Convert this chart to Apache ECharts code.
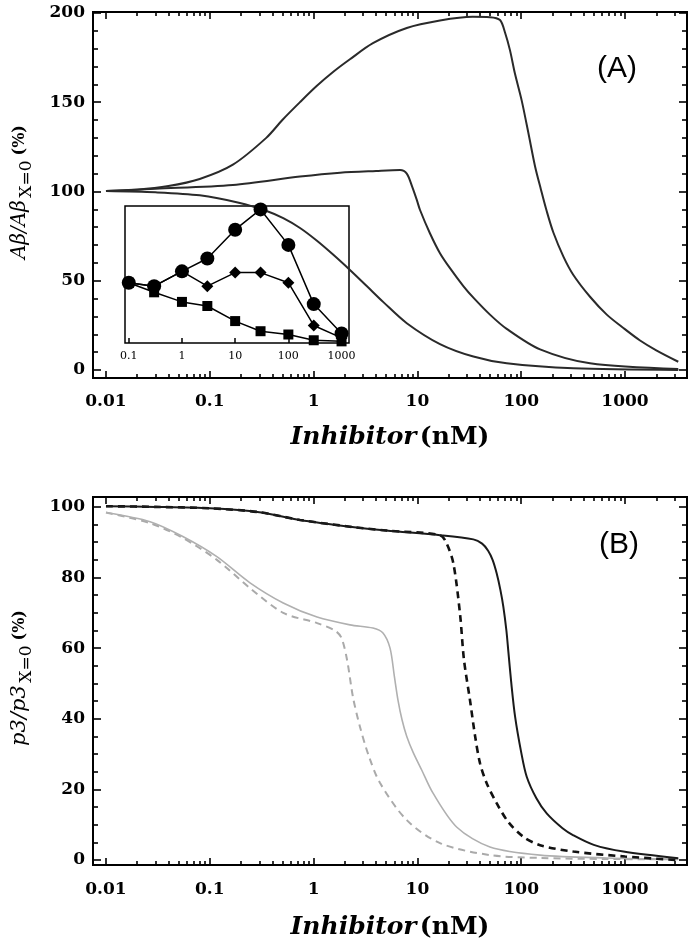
<!DOCTYPE html>
<html><head><meta charset="utf-8">
<script src="https://cdn.jsdelivr.net/npm/echarts@6/dist/echarts.min.js"></script>
<style>html,body{margin:0;padding:0;background:#fff}#c{width:693px;height:948px}</style>
</head><body><div id="c"></div>
<script>
// ---------------- data ----------------
// Panel A curves (Inhibitor nM vs Abeta / Abeta_X=0 %)
const a1X = [0.01, 0.02, 0.04, 0.08, 0.167, 0.35, 0.5, 0.74, 1.07, 1.55, 2.24, 3.73, 7.9, 16.5, 34, 50, 62.5, 69.8, 78, 87, 101, 117, 136, 155, 176, 204, 255, 318, 460, 667, 964, 1396, 2000, 3258];
const a1Y = [100.3, 101, 103, 107, 115, 130, 140, 150, 159, 167, 174, 183, 191.5, 195.7, 197.8, 197.6, 196, 189, 179, 166, 151, 133, 114, 101, 89, 77, 63.5, 53.2, 41, 31, 23.5, 16.5, 11, 4.6];
const a2X = [0.01, 0.03, 0.167, 0.74, 1.8, 4, 6.8, 7.9, 8.9, 9.9, 10.6, 13.2, 16.5, 20.6, 27.7, 34.6, 50, 72.5, 152, 460, 3258];
const a2Y = [100.3, 101.5, 103.6, 108.3, 110.5, 111.5, 112, 110, 102.7, 95, 89.6, 76.6, 65.4, 57, 47, 40.5, 31, 23, 11.5, 3.7, 0.5];
const a3X = [0.01, 0.03, 0.08, 0.195, 0.353, 0.51, 0.74, 1.07, 1.55, 2.24, 3.25, 4.7, 7.9, 16.5, 34.6, 72.5, 318, 3258];
const a3Y = [100.2, 99.5, 97.8, 93.5, 89, 85, 79.5, 72.5, 64.5, 56, 47, 38, 26.2, 14.5, 7.5, 3.7, 0.9, 0];

// Inset (experimental points)
const insetX = [0.1, 0.3, 1, 3, 10, 30, 100, 300, 1000];
const insetCircles = [44, 41.5, 52.3, 61.7, 82.7, 97.5, 71.6, 28.4, 6.9];
const insetDiamonds = [44, 41.5, 52.3, 41.5, 51.4, 51.4, 44, 12.8, 3.7];
const insetSquares = [44, 37, 30, 27, 16, 8.6, 6.2, 2, 1.2];
const insetLabels = [0.1, 1, 10, 100, 1000];

// Panel B curves (Inhibitor nM vs p3 / p3_X=0 %)
const bBlackX = [0.01, 0.03, 0.1, 0.3, 0.74, 2.24, 5, 16.5, 34.6, 42, 48, 53, 58, 63, 67.3, 72, 75.2, 80, 87.3, 100, 113, 140, 176, 250, 318, 500, 964, 3258];
const bBlackY = [100.2, 100, 99.6, 98.5, 96.3, 94.4, 93.3, 92, 90.8, 89.6, 87.6, 85, 81.2, 76.5, 71.7, 65, 59, 50.5, 40.6, 30.5, 23.6, 17.5, 13.2, 9, 7, 4.3, 2.4, 0.5];
const bBlackDashX = [0.01, 0.03, 0.1, 0.3, 0.74, 2.24, 5, 16.5, 19.1, 22.2, 25.7, 28.1, 32.1, 36, 40.1, 46.6, 58, 75, 104.7, 152, 318, 1000, 3258];
const bBlackDashY = [100.2, 100, 99.6, 98.5, 96.3, 94.4, 93.3, 92, 89.7, 84, 69.9, 56.7, 45.3, 35, 27.4, 21.7, 16.1, 10.8, 6.6, 4.2, 2.4, 1, 0];
const bGrayX = [0.01, 0.0266, 0.055, 0.117, 0.244, 0.51, 1.08, 2.24, 3.73, 4.66, 5.45, 6.0, 6.5, 7.1, 7.9, 9.1, 11, 14.1, 24, 50, 152, 670, 3258];
const bGrayY = [98.4, 95.8, 91.6, 85.9, 78.5, 72.8, 68.8, 66.6, 65.7, 64.3, 60, 52, 45.3, 39.8, 35, 30.5, 25.5, 19, 9.3, 3.7, 1.4, 0.6, 0.3];
const bGrayDashX = [0.01, 0.0266, 0.055, 0.117, 0.244, 0.51, 1.08, 1.6, 1.85, 2.1, 2.4, 2.8, 3.4, 4.37, 7.9, 16.5, 50, 152, 670, 3258];
const bGrayDashY = [98.4, 95.4, 91.2, 85, 77, 70, 67.1, 65, 63, 56.7, 46, 37.7, 29.5, 21.8, 11.3, 4.8, 1.4, 0.6, 0.3, 0.2];

// Tick labels / tick values
const xLabels = [0.01, 0.1, 1, 10, 100, 1000];
const xMinorTicks = [0.02, 0.03, 0.04, 0.05, 0.06, 0.07, 0.08, 0.09,
  0.2, 0.3, 0.4, 0.5, 0.6, 0.7, 0.8, 0.9,
  2, 3, 4, 5, 6, 7, 8, 9,
  20, 30, 40, 50, 60, 70, 80, 90,
  200, 300, 400, 500, 600, 700, 800, 900,
  2000, 3000];
const yALabels = [0, 50, 100, 150, 200];
const yAMinor = [10, 20, 30, 40, 60, 70, 80, 90, 110, 120, 130, 140, 160, 170, 180, 190];
const yBLabels = [0, 20, 40, 60, 80, 100];
const yBMinor = [5, 10, 15, 25, 30, 35, 45, 50, 55, 65, 70, 75, 85, 90, 95];

// ---------------- chart ----------------
const X_MIN = 0.0075, X_MAX = 3954;
const SERIF = 'DejaVu Serif';
const pairs = (xs, ys) => xs.map((x, i) => [x, ys[i]]);
const fmt = v => String(parseFloat(Number(v).toPrecision(4)));

function xAx(grid, position, ticks, len, labels, margin) {
  return {
    type: 'log', logBase: 10, gridIndex: grid, position: position, min: X_MIN, max: X_MAX,
    axisLine: {show: false, onZero: false}, splitLine: {show: false}, minorTick: {show: false},
    axisTick: {show: true, inside: true, length: len, customValues: ticks, lineStyle: {color: '#000', width: 1.6}},
    axisLabel: labels ? {show: true, customValues: labels, margin: margin, color: '#000', fontFamily: SERIF,
      fontWeight: 'bold', fontSize: 17, formatter: fmt} : {show: false}
  };
}
function yAx(grid, position, min, max, ticks, len, labels) {
  return {
    type: 'value', gridIndex: grid, position: position, min: min, max: max,
    axisLine: {show: false, onZero: false}, splitLine: {show: false},
    axisTick: {show: true, inside: true, length: len, customValues: ticks, lineStyle: {color: '#000', width: 1.6}},
    axisLabel: labels ? {show: true, customValues: labels, margin: 8, color: '#000', fontFamily: SERIF,
      fontWeight: 'bold', fontSize: 17} : {show: false}
  };
}

const A_MIN = -4.5, A_MAX = 200.5, B_MIN = -1.4, B_MAX = 102.8;

const lineA = (name, xs, ys) => ({
  name, type: 'line', xAxisIndex: 0, yAxisIndex: 0, data: pairs(xs, ys), showSymbol: false,
  smooth: 0.3, lineStyle: {color: '#2a2a2a', width: 2}, z: 3
});
const lineB = (name, xs, ys, color, width, type) => ({
  name, type: 'line', xAxisIndex: 4, yAxisIndex: 4, data: pairs(xs, ys), showSymbol: false,
  smooth: 0.3, lineStyle: {color: color, width: width, type: type}, z: 3
});
const insetSeries = (name, ys, symbol, size) => ({
  name, type: 'line', xAxisIndex: 8, yAxisIndex: 8, data: pairs(insetX, ys),
  symbol: symbol, symbolSize: size, showSymbol: true,
  itemStyle: {color: '#000'}, lineStyle: {color: '#000', width: 1.5}, z: 5
});

const option = {
  animation: false,
  backgroundColor: '#fff',
  grid: [
    {left: 93, top: 12, width: 594, height: 366, show: true, borderColor: '#000', borderWidth: 2, backgroundColor: 'transparent'},
    {left: 93, top: 497, width: 594, height: 368, show: true, borderColor: '#000', borderWidth: 2, backgroundColor: 'transparent'},
    {left: 125, top: 206, width: 224, height: 137, show: true, borderColor: '#000', borderWidth: 1.5, backgroundColor: 'transparent'}
  ],
  xAxis: [
    xAx(0, 'bottom', xLabels, 7, xLabels, 15),
    xAx(0, 'bottom', xMinorTicks, 4, null),
    xAx(0, 'top', xLabels, 7, null),
    xAx(0, 'top', xMinorTicks, 4, null),
    xAx(1, 'bottom', xLabels, 7, xLabels, 16),
    xAx(1, 'bottom', xMinorTicks, 4, null),
    xAx(1, 'top', xLabels, 7, null),
    xAx(1, 'top', xMinorTicks, 4, null),
    {
      type: 'log', logBase: 10, gridIndex: 2, position: 'bottom', min: 0.085, max: 1380,
      axisLine: {show: false, onZero: false}, splitLine: {show: false}, minorTick: {show: false},
      axisTick: {show: true, inside: true, length: 5, customValues: insetLabels, lineStyle: {color: '#000', width: 1.5}},
      axisLabel: {show: true, customValues: insetLabels, margin: 8, color: '#000', fontFamily: SERIF, fontSize: 11, formatter: fmt}
    }
  ],
  yAxis: [
    yAx(0, 'left', A_MIN, A_MAX, yALabels, 8, yALabels),
    yAx(0, 'left', A_MIN, A_MAX, yAMinor, 5, null),
    yAx(0, 'right', A_MIN, A_MAX, yALabels, 8, null),
    yAx(0, 'right', A_MIN, A_MAX, yAMinor, 5, null),
    yAx(1, 'left', B_MIN, B_MAX, yBLabels, 8, yBLabels),
    yAx(1, 'left', B_MIN, B_MAX, yBMinor, 5, null),
    yAx(1, 'right', B_MIN, B_MAX, yBLabels, 8, null),
    yAx(1, 'right', B_MIN, B_MAX, yBMinor, 5, null),
    {type: 'value', gridIndex: 2, min: 0, max: 100, axisLine: {show: false, onZero: false}, splitLine: {show: false},
      axisTick: {show: false}, axisLabel: {show: false}}
  ],
  series: [
    lineA('A1', a1X, a1Y),
    lineA('A2', a2X, a2Y),
    lineA('A3', a3X, a3Y),
    insetSeries('squares', insetSquares, 'rect', 10),
    insetSeries('diamonds', insetDiamonds, 'diamond', 12),
    insetSeries('circles', insetCircles, 'circle', 14),
    lineB('gray dashed', bGrayDashX, bGrayDashY, '#aaaaaa', 2, [7, 5]),
    lineB('gray', bGrayX, bGrayY, '#b0b0b0', 1.6, 'solid'),
    lineB('black dashed', bBlackDashX, bBlackDashY, '#111', 2.6, [7, 5]),
    lineB('black', bBlackX, bBlackY, '#1a1a1a', 2, 'solid')
  ],
  graphic: [
    {type: 'text', x: 617, y: 69, style: {text: '(A)', font: '30px "Liberation Sans"', fill: '#000', align: 'center', verticalAlign: 'middle', textAlign: 'center', textVerticalAlign: 'middle'}},
    {type: 'text', x: 619, y: 545, style: {text: '(B)', font: '30px "Liberation Sans"', fill: '#000', align: 'center', verticalAlign: 'middle', textAlign: 'center', textVerticalAlign: 'middle'}},
    {type: 'text', x: 390, y: 437, style: {
      text: '{i|Inhibitor} {b|(nM)}', align: 'center', verticalAlign: 'middle', textAlign: 'center', textVerticalAlign: 'middle',
      rich: {i: {fontFamily: SERIF, fontStyle: 'italic', fontWeight: 'bold', fontSize: 25, fill: '#000'},
             b: {fontFamily: SERIF, fontWeight: 'bold', fontSize: 25, fill: '#000'}}}},
    {type: 'text', x: 390, y: 927, style: {
      text: '{i|Inhibitor} {b|(nM)}', align: 'center', verticalAlign: 'middle', textAlign: 'center', textVerticalAlign: 'middle',
      rich: {i: {fontFamily: SERIF, fontStyle: 'italic', fontWeight: 'bold', fontSize: 25, fill: '#000'},
             b: {fontFamily: SERIF, fontWeight: 'bold', fontSize: 25, fill: '#000'}}}},
    {type: 'text', x: 20, y: 192, rotation: Math.PI / 2, style: {
      text: '{a|Aβ/Aβ}{g| }{s|X=0}{g|  }{p|(%)}', align: 'center', verticalAlign: 'middle', textAlign: 'center', textVerticalAlign: 'middle',
      rich: {a: {fontFamily: SERIF, fontStyle: 'italic', fontSize: 20, lineHeight: 30, verticalAlign: 'middle', fill: '#000'},
             g: {fontFamily: SERIF, fontSize: 8, lineHeight: 8, fill: '#000'},
             s: {fontFamily: SERIF, fontSize: 17, lineHeight: 17, verticalAlign: 'bottom', fill: '#000'},
             p: {fontFamily: SERIF, fontWeight: 'bold', fontSize: 16, lineHeight: 30, verticalAlign: 'middle', fill: '#000'}}}},
    {type: 'text', x: 20, y: 678, rotation: Math.PI / 2, style: {
      text: '{a|p3/p3}{g| }{s|X=0}{g|  }{p|(%)}', align: 'center', verticalAlign: 'middle', textAlign: 'center', textVerticalAlign: 'middle',
      rich: {a: {fontFamily: SERIF, fontStyle: 'italic', fontSize: 21, lineHeight: 30, verticalAlign: 'middle', fill: '#000'},
             g: {fontFamily: SERIF, fontSize: 8, lineHeight: 8, fill: '#000'},
             s: {fontFamily: SERIF, fontSize: 17, lineHeight: 17, verticalAlign: 'bottom', fill: '#000'},
             p: {fontFamily: SERIF, fontWeight: 'bold', fontSize: 16, lineHeight: 30, verticalAlign: 'middle', fill: '#000'}}}}
  ]
};

const chart = echarts.init(document.getElementById('c'), null, {renderer: 'canvas'});
chart.setOption(option);
</script>
</body></html>
